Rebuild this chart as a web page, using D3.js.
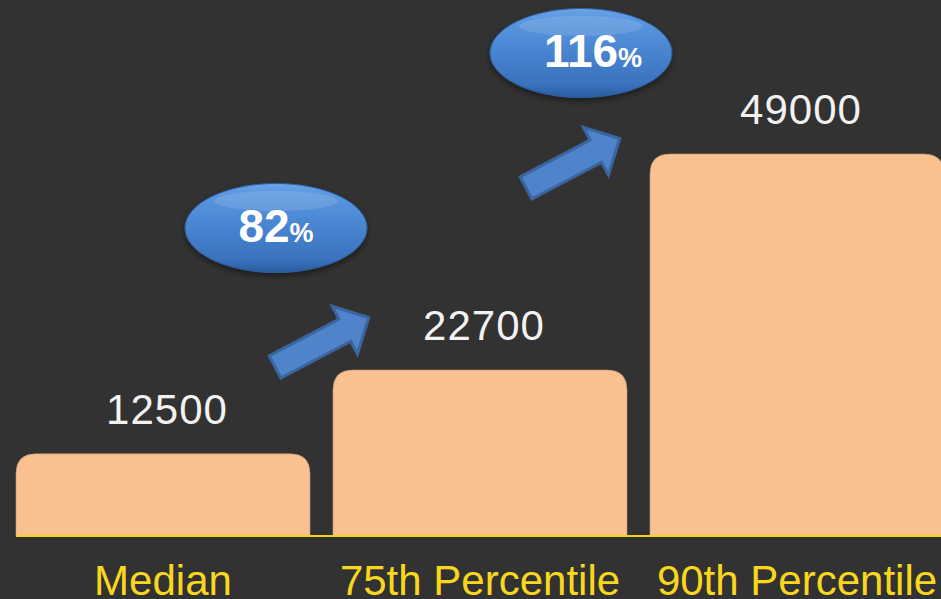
<!DOCTYPE html>
<html>
<head>
<meta charset="utf-8">
<script src="https://cdn.jsdelivr.net/npm/d3@7"></script>
<style>
  html, body { margin: 0; padding: 0; background: #323232; }
  svg { display: block; }
</style>
</head>
<body>
<svg id="chart"></svg>
<script>
// chart data
const categories = ["Median", "75th Percentile", "90th Percentile"];
const values = [12500, 22700, 49000];

const width = 941;
const height = 599;
const baseline = 536;

const svg = d3.select("#chart")
  .attr("width", width)
  .attr("height", height);

svg.append("rect")
  .attr("width", width)
  .attr("height", height)
  .attr("fill", "#323232");

const defs = svg.append("defs");

// glossy blue fill for the percentage badges
const grad = defs.append("linearGradient")
  .attr("id", "badge")
  .attr("x1", 0).attr("y1", 0).attr("x2", 0).attr("y2", 1);
[["0%", "#6aa3e6"], ["12%", "#5b97e0"], ["45%", "#4a86d2"], ["85%", "#3a72bd"], ["100%", "#2a5c9e"]]
  .forEach(s => grad.append("stop").attr("offset", s[0]).attr("stop-color", s[1]));

const shadow = defs.append("filter")
  .attr("id", "shadow")
  .attr("x", "-20%").attr("y", "-20%").attr("width", "140%").attr("height", "160%");
shadow.append("feDropShadow")
  .attr("dx", 0).attr("dy", 3)
  .attr("stdDeviation", 3)
  .attr("flood-color", "#000")
  .attr("flood-opacity", 0.45);

// x band scale
const x = d3.scaleBand()
  .domain(categories)
  .range([16, 944])
  .paddingInner(0.0726)
  .paddingOuter(0);

// y scale (the bars in the picture do not start at zero)
const y = d3.scaleLinear()
  .domain([2500, 49000])
  .range([baseline, 154]);

// bar with rounded top corners
function topRounded(x0, y0, w, h, r) {
  return "M" + x0 + "," + (y0 + h) +
    "V" + (y0 + r) +
    "Q" + x0 + "," + y0 + " " + (x0 + r) + "," + y0 +
    "H" + (x0 + w - r) +
    "Q" + (x0 + w) + "," + y0 + " " + (x0 + w) + "," + (y0 + r) +
    "V" + (y0 + h) + "Z";
}

svg.selectAll(".bar")
  .data(values)
  .enter()
  .append("path")
  .attr("class", "bar")
  .attr("d", (d, i) => topRounded(x(categories[i]), y(d), x.bandwidth(), baseline - y(d), 20))
  .attr("fill", "#f9c18f")
  .attr("stroke", "#c89a72")
  .attr("stroke-width", 0.6);

// baseline
svg.append("line")
  .attr("x1", 16).attr("x2", width)
  .attr("y1", baseline).attr("y2", baseline)
  .attr("stroke", "#f5d21a")
  .attr("stroke-width", 2);

// value labels
svg.selectAll(".value")
  .data(values)
  .enter()
  .append("text")
  .attr("class", "value")
  .attr("x", (d, i) => x(categories[i]) + x.bandwidth() / 2 + 4)
  .attr("y", d => y(d) - 30)
  .attr("text-anchor", "middle")
  .attr("font-family", "'Liberation Sans', Arial, sans-serif")
  .attr("font-size", 42)
  .attr("letter-spacing", 1)
  .attr("fill", "#f2f2f2")
  .text(d => d);

// category labels
svg.selectAll(".cat")
  .data(categories)
  .enter()
  .append("text")
  .attr("class", "cat")
  .attr("x", d => x(d) + x.bandwidth() / 2)
  .attr("y", 595)
  .attr("text-anchor", "middle")
  .attr("font-family", "'Liberation Sans', Arial, sans-serif")
  .attr("font-size", 42)
  .attr("fill", "#f9d71c")
  .text(d => d);

// growth between consecutive bars
const growth = values.slice(1).map((v, i) => Math.round((v - values[i]) / values[i] * 100));

// arrow + badge placement, relative to the bar each step leads to
const notes = [
  { arrow: [275, 367], badge: [276, 228] },
  { arrow: [526, 188], badge: [581, 53] }
];

const arrowShape = [[0, -12.5], [79, -12.5], [79, -27], [106, 0], [79, 27], [79, 12.5], [0, 12.5]];

notes.forEach((n, i) => {
  svg.append("polygon")
    .attr("points", arrowShape.map(p => p.join(",")).join(" "))
    .attr("transform", "translate(" + n.arrow[0] + "," + n.arrow[1] + ") rotate(-27.8)")
    .attr("fill", "#4f84ca")
    .attr("stroke", "#3a659f")
    .attr("stroke-width", 3)
    .attr("stroke-linejoin", "miter");

  const g = svg.append("g")
    .attr("transform", "translate(" + n.badge[0] + "," + n.badge[1] + ")");

  g.append("ellipse")
    .attr("rx", 91).attr("ry", 44.5)
    .attr("fill", "url(#badge)")
    .attr("stroke", "#2e5f9e")
    .attr("stroke-width", 1)
    .attr("filter", "url(#shadow)");

  // glossy highlight
  g.append("ellipse")
    .attr("cy", -27)
    .attr("rx", 62).attr("ry", 10)
    .attr("fill", "#ffffff")
    .attr("opacity", 0.12);

  const t = g.append("text")
    .attr("y", 14)
    .attr("x", i === 1 ? 12 : 0)
    .attr("text-anchor", "middle")
    .attr("font-family", "'Liberation Sans', Arial, sans-serif")
    .attr("font-weight", "bold")
    .attr("fill", "#ffffff");
  t.append("tspan").attr("font-size", 46).text(growth[i]);
  t.append("tspan").attr("font-size", 27).text("%");
});
</script>
</body>
</html>
